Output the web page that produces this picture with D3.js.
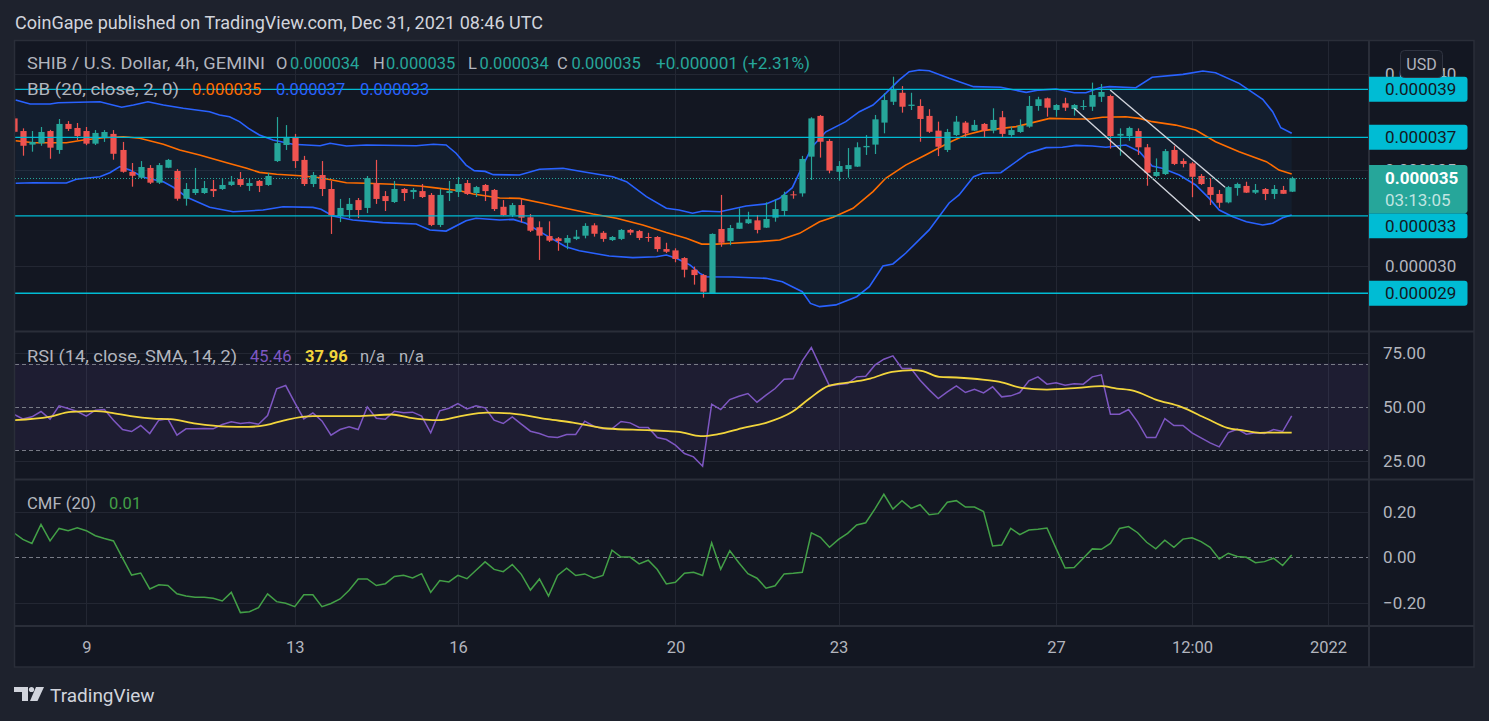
<!DOCTYPE html>
<html><head><meta charset="utf-8">
<script src="https://cdn.jsdelivr.net/npm/d3@7"></script>
<style>
html,body{margin:0;padding:0;background:#1e222d;overflow:hidden;}
svg{display:block;font-family:Roboto,"Noto Sans",sans-serif;}
</style></head><body>
<svg id="chart" width="1489" height="721"></svg>
<script>
// ---------- DATA (prices in millionths of USD: 34.57 = 0.00003457) ----------
const open = [
37.70,37.04,36.33,36.40,37.04,36.05,37.41,37.20,37.04,36.38,
36.71,36.89,36.05,34.90,34.60,35.11,34.34,35.12,34.95,33.50,
33.80,33.80,34.01,34.01,34.22,34.53,34.17,34.43,34.22,35.47,
36.31,36.73,35.53,34.27,34.74,34.01,32.60,32.91,33.43,33.02,
34.32,33.64,33.33,34.01,33.85,33.90,33.70,32.13,33.80,33.85,
34.32,33.80,34.22,33.96,33.08,32.65,33.17,32.53,32.01,31.55,
31.43,31.20,31.40,31.57,32.11,31.72,31.34,31.40,31.87,31.81,
31.50,31.50,30.87,30.80,30.40,29.79,29.51,28.56,31.92,31.29,
31.93,32.22,32.37,31.99,32.51,32.86,33.73,33.78,35.70,37.83,
36.52,34.91,35.05,35.18,36.19,36.33,37.48,38.57,39.04,38.35,
38.35,37.83,37.06,36.05,36.83,37.48,37.06,37.41,37.06,37.76,
36.83,36.99,37.27,38.35,38.75,38.14,38.49,38.19,38.31,38.31,
38.83,38.87,36.80,36.78,37.04,36.19,34.69,34.79,36.05,35.47,
35.35,34.69,34.11,33.75,33.31,34.06,34.17,33.82,34.01,33.75,
33.96,33.87];
const high = [
37.82,37.18,37.04,37.25,37.10,37.67,37.56,37.46,37.25,37.09,
37.09,37.09,36.47,35.37,35.47,35.26,35.37,35.58,35.05,34.32,
35.11,34.43,34.48,34.58,34.69,34.90,34.53,34.48,34.85,37.77,
37.35,36.89,35.74,34.90,35.47,34.43,33.49,33.54,33.54,34.69,
35.53,33.90,34.43,34.06,34.06,34.27,33.80,34.01,34.43,34.64,
34.48,34.17,34.27,34.01,33.43,33.28,33.47,32.70,32.32,32.32,
31.50,31.60,31.87,32.22,32.22,31.81,31.55,31.92,31.92,31.87,
31.72,31.55,31.20,30.91,30.45,29.95,29.56,31.69,33.70,32.13,
33.00,32.82,32.65,33.31,33.47,33.87,33.90,35.74,37.76,37.88,
36.62,35.47,36.15,36.45,36.83,37.88,39.01,39.88,39.39,39.04,
38.70,38.18,37.53,37.15,37.83,37.56,37.62,37.46,38.23,38.09,
37.27,37.65,38.87,38.83,38.79,38.45,38.78,38.45,38.66,39.57,
39.50,38.94,37.18,37.27,37.18,36.36,35.61,36.10,36.26,35.61,
35.42,34.79,34.57,33.96,34.17,34.34,34.39,34.27,34.06,34.22,
34.17,34.65];
const low = [
36.93,35.75,35.96,36.27,35.59,35.85,37.04,36.57,36.30,36.31,
36.47,35.54,34.86,34.13,34.53,34.27,34.27,35.10,33.40,33.14,
33.70,33.75,33.59,33.96,34.17,34.13,33.91,33.85,34.17,35.42,
36.05,35.11,34.17,34.11,33.64,31.66,32.28,32.49,32.49,32.75,
33.23,32.86,33.28,33.38,33.49,33.54,32.07,32.02,33.38,33.59,
33.70,33.59,33.38,32.86,32.60,32.55,32.27,31.76,30.30,31.24,
30.78,30.86,31.34,31.43,31.52,31.25,31.29,31.34,31.60,31.34,
31.25,30.73,30.66,30.18,29.39,29.01,28.33,28.52,30.99,31.07,
31.92,32.18,31.69,31.97,32.30,32.60,33.50,33.61,34.48,35.65,
34.83,34.44,34.60,35.16,35.79,35.84,36.92,38.40,38.00,38.14,
36.48,36.94,35.73,35.94,36.78,36.71,37.04,36.69,36.92,36.71,
36.74,36.94,37.21,38.10,37.79,37.79,38.09,37.84,38.14,38.09,
38.56,36.12,35.75,36.53,35.79,34.18,34.64,34.74,35.26,35.14,
33.58,34.22,33.17,33.03,33.26,33.66,33.80,33.75,33.43,33.49,
33.75,33.85];
const close = [
37.00,36.27,36.47,36.99,36.17,37.41,37.15,36.78,36.38,36.94,
36.99,35.85,34.91,34.70,35.16,34.34,35.26,35.53,33.50,34.01,
34.01,34.06,33.90,34.22,34.40,34.22,34.32,34.17,34.69,36.41,
36.73,35.47,34.27,34.74,34.01,32.65,33.02,33.23,32.91,34.58,
33.49,33.38,34.01,33.80,33.96,33.59,32.13,33.70,33.90,34.27,
33.75,34.11,33.90,32.96,32.65,33.17,32.51,31.83,31.57,31.31,
31.29,31.45,31.52,32.08,31.67,31.40,31.50,31.87,31.73,31.45,
31.45,30.87,30.73,30.35,29.79,29.51,28.64,31.66,31.20,31.97,
32.25,32.43,31.87,32.44,32.96,33.70,33.68,35.58,37.70,36.48,
34.97,35.21,35.26,36.19,36.26,37.65,38.66,39.22,38.31,38.42,
37.67,37.00,36.22,36.99,37.53,36.92,37.36,37.06,37.62,36.89,
37.09,37.32,38.35,38.70,38.26,38.40,38.26,38.40,38.35,38.92,
39.08,36.78,36.89,37.20,36.19,34.86,34.90,35.99,35.32,35.32,
34.65,34.27,33.70,33.29,34.11,34.27,33.82,33.96,33.75,34.01,
33.76,34.57];

// Bollinger bands, read as [bar index, price]
const bbUpper = [[0.2,38.66],[1.8,38.45],[4,38.45],[4.9,38.52],[9.5,38.57],[11.9,38.28],[13.2,38.40],[14.8,38.57],[16.5,38.40],[18.7,38.23],[21.6,38.05],[22.7,37.88],[23.8,37.79],[24.9,37.53],[25.9,37.18],[27.1,36.83],[28.6,36.57],[30.8,36.35],[33.8,36.27],[34.9,36.40],[36.7,36.26],[38.9,36.31],[44.4,36.27],[46.3,36.35],[47.7,36.31],[48.8,35.88],[49.9,35.26],[50.8,34.97],[52,34.93],[52.9,34.76],[55.8,34.74],[58,35.04],[60.6,35.09],[62.8,34.91],[66.1,34.65],[67.6,34.39],[69.8,33.61],[72,33.00],[73.4,32.91],[74.9,32.74],[76,32.86],[77.9,32.82],[80.8,33.12],[83,33.23],[84.5,33.52],[85.9,34.08],[87,35.18],[88.1,36.22],[89.6,37.00],[91.8,37.53],[93.3,38.05],[94.8,38.40],[96.2,39.01],[97.7,39.71],[98.8,40.14],[99.9,40.23],[101,40.19],[103.2,39.80],[105.9,39.36],[108.9,39.33],[111.7,39.06],[113.1,39.18],[115,39.24],[117,39.04],[118.3,39.04],[119.8,39.30],[120.9,39.36],[123.8,39.30],[125.6,39.85],[129,40.00],[131.2,40.18],[132.6,40.09],[135.2,39.53],[137.8,38.70],[138.9,38.05],[139.8,37.21],[141,36.92]];
const bbMiddle = [[0.2,36.53],[2.2,36.43],[5.8,36.43],[7.7,36.57],[9.9,36.69],[12.1,36.74],[13.9,36.66],[16.5,36.35],[18.3,36.05],[20.5,35.79],[23.5,35.38],[25.7,35.09],[27.1,34.88],[29,34.78],[31.6,34.70],[33.8,34.60],[36.7,34.34],[38.9,34.31],[41.8,34.26],[44.8,34.17],[46.3,34.08],[49.2,33.92],[50.7,33.75],[53.6,33.54],[55.8,33.52],[58.4,33.26],[60.9,33.00],[63.9,32.70],[66.5,32.48],[69.4,32.13],[72,31.73],[74.2,31.43],[75.9,31.13],[77.5,31.13],[79.3,31.17],[82.3,31.26],[84.5,31.34],[86.7,31.69],[88.9,32.30],[90.4,32.53],[92.6,33.00],[94.8,33.87],[96.2,34.57],[98.4,35.26],[100.6,35.79],[103.2,36.44],[105,36.83],[106.9,37.06],[110.6,37.27],[114.3,37.70],[117.2,37.67],[118.7,37.67],[120.1,37.76],[122.7,37.79],[124.2,37.70],[125.6,37.53],[128.2,37.35],[130.4,37.09],[132.6,36.48],[135.2,35.96],[138.2,35.44],[139.6,35.00],[141,34.79]];
const bbLower = [[0.2,34.31],[2.2,34.34],[5.8,34.32],[6.9,34.52],[9.5,34.65],[10.6,34.86],[11.7,35.18],[12.8,35.00],[14.3,34.62],[16.5,34.39],[17.6,34.10],[19.1,33.58],[21.6,33.05],[24.2,32.82],[27.5,32.91],[29.7,33.08],[33,33.05],[33.9,32.95],[35.2,32.60],[37.4,32.39],[40.7,32.25],[44.4,32.18],[45.9,31.87],[47.7,31.81],[49.9,32.35],[51,32.48],[53.6,32.39],[55.1,32.42],[56.5,32.22],[58.7,31.60],[60.9,30.99],[62.4,30.78],[65.7,30.51],[68.3,30.42],[70.9,30.47],[72,30.56],[73.1,30.39],[74.6,30.04],[75.7,29.60],[76.4,29.42],[79.3,29.41],[83,29.34],[84.8,29.16],[85.9,28.90],[87,28.64],[87.9,28.03],[88.9,27.86],[90.7,27.95],[93,28.38],[94.4,28.90],[95.9,29.98],[97,30.09],[98.4,30.65],[101,31.87],[103.2,33.28],[104.3,33.70],[105.9,34.65],[106.9,34.83],[108.9,34.86],[111.9,35.88],[113.9,36.17],[115.7,36.19],[117.2,36.29],[119,36.26],[120.5,36.19],[122.7,36.31],[124.2,35.96],[125.6,35.21],[126.7,35.09],[128.6,34.74],[130.4,34.22],[131.9,33.52],[133,32.91],[134.5,32.56],[136,32.30],[137.8,32.13],[138.9,32.22],[140,32.51],[141,32.65]];

const rsi = [
46.53,44.37,45.30,47.77,44.22,50.39,49.16,47.77,45.61,48.38,
48.69,43.75,39.43,38.51,41.28,37.58,43.75,44.37,36.81,39.74,
39.74,39.90,39.74,41.75,42.98,42.21,42.67,41.90,45.92,58.26,
59.80,51.93,44.37,47.15,43.44,36.81,39.43,40.67,39.43,49.93,
44.68,44.22,47.92,47.15,47.46,45.61,37.89,48.07,49.31,51.47,
49.00,50.39,49.46,43.75,42.21,45.30,41.90,38.66,37.58,36.04,
35.73,37.12,37.12,43.29,40.98,39.74,39.74,43.14,42.52,40.36,
40.36,35.73,34.80,32.18,28.32,26.78,22.46,51.16,48.69,53.32,
54.86,56.10,52.09,55.33,58.41,62.73,62.89,71.22,77.40,68.44,
59.65,60.27,60.73,63.81,64.12,69.22,71.99,73.54,67.67,67.67,
62.27,57.80,53.78,56.87,59.65,56.56,58.10,56.41,59.19,54.56,
55.02,56.56,61.96,63.81,60.42,61.04,59.96,60.57,60.42,63.81,
64.74,46.53,46.53,48.69,42.98,35.73,35.73,44.52,41.28,41.28,
37.89,35.57,33.26,31.41,38.04,39.59,37.27,37.89,37.58,39.43,
38.51,45.76];
// RSI moving average, read as [bar index, value]
const rsiMA = [[0,43.75],[3.9,45.30],[6.3,47.61],[9.1,47.92],[10.6,47.30],[12.9,45.61],[15.4,44.52],[17.3,44.22],[20.1,42.21],[23.5,40.82],[25.9,40.67],[27.8,41.44],[30.2,44.06],[33,45.61],[37.8,45.61],[41.7,46.38],[43.6,44.99],[46.9,43.75],[49.3,45.61],[52.2,47.30],[55,46.84],[58.9,44.22],[61.7,42.67],[65.5,39.90],[69.9,39.12],[72.2,38.66],[73.4,38.35],[75.8,36.35],[77.7,37.27],[80.6,40.36],[83,42.52],[85.9,47.61],[87.8,53.78],[89.9,59.65],[92.6,61.50],[94.5,63.04],[96.9,66.13],[99.3,66.90],[100.3,66.44],[102.1,63.81],[104,63.51],[106.9,62.58],[108.8,61.50],[111.2,58.72],[114,57.95],[117.4,58.72],[120,59.49],[121.7,58.41],[123.6,57.33],[126,53.32],[128.8,49.93],[131.6,44.52],[133.9,40.20],[135.5,39.12],[137.5,37.89],[138.9,38.04],[141,37.96]];

const cmf = [
0.108,0.079,0.061,0.145,0.072,0.127,0.117,0.130,0.117,0.095,
0.083,0.072,-0.004,-0.078,-0.069,-0.139,-0.121,-0.124,-0.160,-0.170,
-0.176,-0.176,-0.180,-0.192,-0.154,-0.243,-0.239,-0.221,-0.161,-0.195,
-0.202,-0.217,-0.165,-0.165,-0.217,-0.203,-0.183,-0.145,-0.095,-0.095,
-0.124,-0.116,-0.084,-0.079,-0.091,-0.072,-0.154,-0.102,-0.108,-0.079,
-0.094,-0.057,-0.020,-0.053,-0.063,-0.032,-0.075,-0.144,-0.095,-0.170,
-0.080,-0.048,-0.080,-0.073,-0.092,-0.080,0.031,0.001,0.001,-0.029,
-0.013,-0.054,-0.117,-0.110,-0.070,-0.066,-0.080,0.064,-0.053,0.029,
-0.024,-0.072,-0.092,-0.136,-0.125,-0.073,-0.070,-0.066,0.108,0.088,
0.044,0.079,0.105,0.142,0.152,0.212,0.277,0.212,0.249,0.215,
0.231,0.187,0.192,0.242,0.249,0.221,0.221,0.201,0.050,0.054,
0.127,0.100,0.120,0.123,0.129,0.039,-0.047,-0.045,-0.004,0.037,
0.035,0.061,0.127,0.135,0.108,0.066,0.037,0.075,0.044,0.080,
0.086,0.069,0.044,-0.007,0.018,0.004,0.000,-0.024,-0.019,-0.004,
-0.036,0.010];

// horizontal levels & channel drawing ([idx0, price0, idx1, price1])
const levels = [39.22, 36.71, 32.60, 28.56];
const channels = [[117.0,38.23,130.86,32.35],[120.97,39.18,133.65,34.10]];

// axis ticks
const xTickIdx = [8,31,49,73,91,115,130,145];
const xTickLabels = ["9","13","16","20","23","27","12:00","2022"];
const priceTicks = [30,35,40];
const rsiTicks = [25,50,75];
const cmfTicks = [-0.2,0,0.2];
const rsiBands = [70,50,30];

// text
const header = "CoinGape published on TradingView.com, Dec 31, 2021 08:46 UTC";
const countdown = "03:13:05";
const changeText = "+0.000001 (+2.31%)";
const rsiLegendValues = ["45.46","37.96"];

// ---------- LAYOUT ----------
const W=1489,H=721;
const PL=15, PR=1369, AR=1474;
const PP={t:41,b:331}, RP={t:332,b:480}, CP={t:480,b:626}, TP={t:626,b:667};
const C={bg:"#1e222d",pane:"#131722",grid:"#232733",sep:"#2a2e39",txt:"#b2b5be",
  up:"#26a69a",down:"#ef5350",cyan:"#00bcd4",bbBlue:"#2962ff",bbOrange:"#ff6d00",
  rsi:"#7e57c2",rsiMA:"#f2d53c",cmf:"#43a047"};
const FONT="Roboto, 'Noto Sans', sans-serif";
const fmtP = v => (v*1e-6).toFixed(6);

const svg=d3.select("#chart");
svg.append("rect").attr("width",W).attr("height",H).attr("fill",C.bg);
svg.append("rect").attr("x",14).attr("y",40.5).attr("width",AR-14).attr("height",TP.b-40.5).attr("fill",C.pane);

const defs=svg.append("defs");
function clip(id,p){defs.append("clipPath").attr("id",id).append("rect").attr("x",PL).attr("y",p.t).attr("width",PR-PL).attr("height",p.b-p.t);}
clip("cp",PP);clip("cr",RP);clip("cc",CP);

const x=d3.scaleLinear().domain([0,141]).range([13.8,1291.7]);
const yP=d3.scaleLinear().domain([30,40]).range([265.7,74.4]);
const yR=d3.scaleLinear().domain([25,75]).range([460.7,352.7]);
const yC=d3.scaleLinear().domain([-0.2,0.2]).range([602.8,511.8]);

// ---------- GRID ----------
const grid=svg.append("g");
[PP,RP,CP].forEach(p=>{
  xTickIdx.forEach(t=>{const xx=Math.round(x(t))+0.5; if(xx>PL&&xx<PR)
    grid.append("line").attr("x1",xx).attr("x2",xx).attr("y1",p.t).attr("y2",p.b).attr("stroke",C.grid);});
});
priceTicks.forEach(v=>grid.append("line").attr("x1",PL).attr("x2",PR).attr("y1",Math.round(yP(v))+0.5).attr("y2",Math.round(yP(v))+0.5).attr("stroke",C.grid));
[25,75].forEach(v=>grid.append("line").attr("x1",PL).attr("x2",PR).attr("y1",Math.round(yR(v))+0.5).attr("y2",Math.round(yR(v))+0.5).attr("stroke",C.grid));
[-0.2,0.2].forEach(v=>grid.append("line").attr("x1",PL).attr("x2",PR).attr("y1",Math.round(yC(v))+0.5).attr("y2",Math.round(yC(v))+0.5).attr("stroke",C.grid));

// ---------- PRICE PANE ----------
const gp=svg.append("g").attr("clip-path","url(#cp)");
const lineP=d3.line().x(d=>x(d[0])).y(d=>yP(d[1]));
const area=bbUpper.concat(bbLower.slice().reverse());
gp.append("path").attr("d",lineP(area)+"Z").attr("fill","rgba(33,150,243,0.06)");
gp.append("path").attr("d",lineP(bbUpper)).attr("fill","none").attr("stroke",C.bbBlue).attr("stroke-width",1.6);
gp.append("path").attr("d",lineP(bbLower)).attr("fill","none").attr("stroke",C.bbBlue).attr("stroke-width",1.6);
gp.append("path").attr("d",lineP(bbMiddle)).attr("fill","none").attr("stroke",C.bbOrange).attr("stroke-width",1.6);

const bars=d3.range(open.length);
const bw=6.2;
gp.selectAll(".wick").data(bars).join("line")
  .attr("x1",i=>Math.round(x(i))+0.5).attr("x2",i=>Math.round(x(i))+0.5)
  .attr("y1",i=>yP(high[i])).attr("y2",i=>yP(low[i]))
  .attr("stroke",i=>close[i]>=open[i]?C.up:C.down).attr("stroke-width",1.2);
gp.selectAll(".body").data(bars).join("rect")
  .attr("x",i=>Math.round(x(i))+0.5-bw/2).attr("width",bw)
  .attr("y",i=>yP(Math.max(open[i],close[i])))
  .attr("height",i=>Math.max(1,Math.abs(yP(open[i])-yP(close[i]))))
  .attr("fill",i=>close[i]>=open[i]?C.up:C.down);

levels.forEach(v=>gp.append("line").attr("x1",PL).attr("x2",PR).attr("y1",yP(v)).attr("y2",yP(v)).attr("stroke",C.cyan).attr("stroke-width",1.3));
channels.forEach(c=>gp.append("line").attr("x1",x(c[0])).attr("y1",yP(c[1])).attr("x2",x(c[2])).attr("y2",yP(c[3])).attr("stroke","#d1d4dc").attr("stroke-width",1.4));
const last=close[close.length-1];
svg.append("line").attr("x1",PL).attr("x2",PR).attr("y1",Math.round(yP(last))+0.5).attr("y2",Math.round(yP(last))+0.5)
  .attr("stroke",C.up).attr("stroke-width",1).attr("stroke-dasharray","1,2");

// ---------- RSI PANE ----------
const gr=svg.append("g").attr("clip-path","url(#cr)");
gr.append("rect").attr("x",PL).attr("width",PR-PL).attr("y",yR(70)).attr("height",yR(30)-yR(70)).attr("fill","rgba(126,87,194,0.1)");
rsiBands.forEach(v=>gr.append("line").attr("x1",PL).attr("x2",PR).attr("y1",Math.round(yR(v))+0.5).attr("y2",Math.round(yR(v))+0.5)
  .attr("stroke","#787b86").attr("stroke-dasharray","4,3"));
gr.append("path").attr("d",d3.line().x((d,i)=>x(i)).y(d=>yR(d))(rsi)).attr("fill","none").attr("stroke",C.rsi).attr("stroke-width",1.5);
gr.append("path").attr("d",d3.line().x(d=>x(d[0])).y(d=>yR(d[1])).curve(d3.curveMonotoneX)(rsiMA)).attr("fill","none").attr("stroke",C.rsiMA).attr("stroke-width",1.8);

// ---------- CMF PANE ----------
const gc=svg.append("g").attr("clip-path","url(#cc)");
gc.append("line").attr("x1",PL).attr("x2",PR).attr("y1",Math.round(yC(0))+0.5).attr("y2",Math.round(yC(0))+0.5).attr("stroke","#787b86").attr("stroke-dasharray","4,3");
gc.append("path").attr("d",d3.line().x((d,i)=>x(i)).y(d=>yC(d))(cmf)).attr("fill","none").attr("stroke",C.cmf).attr("stroke-width",1.5);

// ---------- SEPARATORS ----------
const sep=svg.append("g").attr("stroke",C.sep).attr("stroke-width",2);
sep.append("line").attr("x1",PR).attr("x2",PR).attr("y1",40.5).attr("y2",TP.b);
[331.5,479.5].forEach(yy=>sep.append("line").attr("x1",14).attr("x2",AR).attr("y1",yy).attr("y2",yy));
sep.append("line").attr("x1",14).attr("x2",AR).attr("y1",626).attr("y2",626);
svg.append("rect").attr("x",14.5).attr("y",40.5).attr("width",AR-14.5).attr("height",TP.b-40.5).attr("fill","none").attr("stroke",C.sep).attr("stroke-width",1.5);

// ---------- AXES ----------
function styleAxis(g,size){g.select(".domain").remove();g.selectAll("text").attr("fill",C.txt).style("font-family",FONT).style("font-size",size+"px");}
const lastY=yP(last);
// price tick labels (the one hidden under the live-price tag is omitted)
const axP=svg.append("g").attr("transform",`translate(${PR},0)`).call(d3.axisRight(yP).tickValues(priceTicks).tickFormat(fmtP).tickSize(0).tickPadding(16));
styleAxis(axP,17);
const axR=svg.append("g").attr("transform",`translate(${PR},0)`).call(d3.axisRight(yR).tickValues(rsiTicks).tickFormat(d3.format(".2f")).tickSize(0).tickPadding(14));
styleAxis(axR,17);
const axC=svg.append("g").attr("transform",`translate(${PR},0)`).call(d3.axisRight(yC).tickValues(cmfTicks).tickFormat(d3.format(".2f")).tickSize(0).tickPadding(14));
styleAxis(axC,17);
const axT=svg.append("g").attr("transform",`translate(0,${TP.t})`).call(d3.axisBottom(x).tickValues(xTickIdx).tickFormat((d,i)=>xTickLabels[i]).tickSize(0));
styleAxis(axT,16.5);
axT.selectAll("text").attr("y",21.5).attr("dy","0.35em");

// ---------- PRICE LABELS ----------
const lab=svg.append("g");
const liveTop=lastY-13.3, liveBot=lastY+35;
levels.forEach(v=>{
  let cy=yP(v);
  if(cy+13.3>liveTop && cy-13.3<liveBot){ cy = (cy>lastY) ? liveBot+12.5 : liveTop-12.5; }
  lab.append("path").attr("d",`M${PR},${cy-12.5}h95.5a3,3 0 0 1 3,3v19a3,3 0 0 1 -3,3h-95.5z`).attr("fill",C.cyan);
  lab.append("text").attr("x",PR+16).attr("y",cy).attr("dy","0.36em").attr("fill","#131722")
    .style("font-family",FONT).style("font-size","17px").text(fmtP(v));
});
{
  lab.append("path").attr("d",`M${PR},${liveTop}h95.5a3,3 0 0 1 3,3v42.3a3,3 0 0 1 -3,3h-95.5z`).attr("fill",C.up);
  lab.append("text").attr("x",PR+16).attr("y",lastY).attr("dy","0.36em").attr("fill","#ffffff").attr("font-weight","bold")
    .style("font-family",FONT).style("font-size","17px").text(fmtP(last));
  lab.append("text").attr("x",PR+16).attr("y",lastY+21.7).attr("dy","0.36em").attr("fill","rgba(255,255,255,0.72)")
    .style("font-family",FONT).style("font-size","17px").text(countdown);
}
lab.append("rect").attr("x",1400.5).attr("y",50.5).attr("width",42).attr("height",27).attr("rx",4).attr("fill","#171b26").attr("stroke","#2f3340");
lab.append("text").attr("x",1421.5).attr("y",64).attr("dy","0.35em").attr("text-anchor","middle").attr("fill",C.txt)
  .style("font-family",FONT).style("font-size","16px").text("USD");

// ---------- LEGENDS ----------
function t(xx,yy,str,col,size,w,len){const e=svg.append("text").attr("x",xx).attr("y",yy).attr("dy","0.35em").attr("fill",col)
  .attr("font-weight",w||"normal").style("font-family",FONT).style("font-size",(size||16.5)+"px").text(str);
  if(len) e.attr("textLength",len).attr("lengthAdjust","spacingAndGlyphs"); return e;}
t(15,23,header,"#d1d4dc",18,null,528);
const o=open.length-1;
t(27,63.3,"SHIB / U.S. Dollar, 4h, GEMINI",C.txt,16.5,null,238);
t(276,63.3,"O",C.txt); t(290,63.3,fmtP(open[o]),C.up);
t(373,63.3,"H",C.txt); t(386,63.3,fmtP(high[o]),C.up);
t(468,63.3,"L",C.txt); t(479.5,63.3,fmtP(low[o]),C.up);
t(557,63.3,"C",C.txt); t(571.5,63.3,fmtP(close[o]),C.up);
t(656,63.3,changeText,C.up,16.5,null,154);
t(27,89.3,"BB (20, close, 2, 0)",C.txt,16.5,null,152);
t(192,89.3,fmtP(bbMiddle[bbMiddle.length-1][1]),C.bbOrange);
t(276,89.3,fmtP(bbUpper[bbUpper.length-1][1]),C.bbBlue);
t(360,89.3,fmtP(bbLower[bbLower.length-1][1]),C.bbBlue);
t(27,356,"RSI (14, close, SMA, 14, 2)",C.txt,16.5,null,210);
t(250,356,rsiLegendValues[0],C.rsi);
t(305,356,rsiLegendValues[1],C.rsiMA,16.5,"bold");
t(360,356,"n/a",C.txt); t(399,356,"n/a",C.txt);
t(27,503,"CMF (20)",C.txt,16.5,null,69);
t(109,503,cmf[cmf.length-1].toFixed(2),C.cmf);

// ---------- LOGO ----------
const lg=svg.append("g").attr("fill","#d1d4dc");
lg.append("path").attr("d","M14,687H28V701H22V692H14Z");
lg.append("circle").attr("cx",31.5).attr("cy",689.5).attr("r",2.6);
lg.append("path").attr("d","M36,687H44L37.5,701H30Z");
lg.append("text").attr("x",50).attr("y",695).attr("dy","0.35em").style("font-family",FONT).style("font-size","19px").text("TradingView");
</script>
</body></html>
